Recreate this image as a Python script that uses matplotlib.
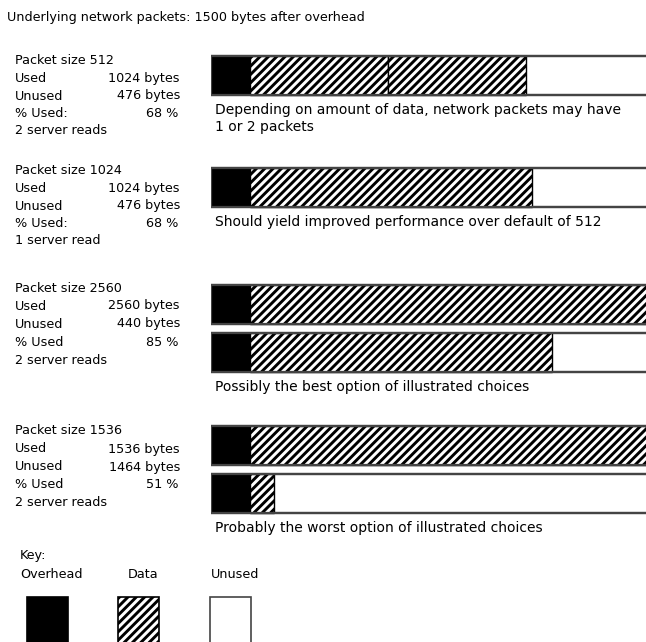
import matplotlib
matplotlib.use("Agg")
import matplotlib.pyplot as plt

plt.rcParams['font.family'] = ['DejaVu Sans']
plt.rcParams['hatch.linewidth'] = 2.1

title = "Underlying network packets: 1500 bytes after overhead"
payload = 1500          # bytes per network packet after overhead
overhead_w = 144        # drawn width of the overhead block (byte-equivalent)

packet_sizes = [512, 1024, 2560, 1536]
used_bytes = [1024, 1024, 2560, 1536]
unused_bytes = [476, 476, 440, 1464]
pct_used = ["68 %", "68 %", "85 %", "51 %"]
pct_labels = ["% Used:", "% Used:", "% Used", "% Used"]
reads = ["2 server reads", "1 server read", "2 server reads", "2 server reads"]
# data segments drawn in each network-packet bar (bytes)
bar_segments = [[[512, 512]], [[1045]], [[1500], [1118]], [[1500], [89]]]
captions = [
    "Depending on amount of data, network packets may have\n1 or 2 packets",
    "Should yield improved performance over default of 512",
    "Possibly the best option of illustrated choices",
    "Probably the worst option of illustrated choices",
]
key_labels = ["Overhead", "Data", "Unused"]

W, H = 646, 642
fig = plt.figure(figsize=(W / 100, H / 100), dpi=100)
ax = fig.add_axes([0, 0, 1, 1])
ax.set_xlim(0, W)
ax.set_ylim(H, 0)
ax.axis('off')

bx0 = 211
axb = fig.add_axes([bx0 / W, 0, (W - bx0) / W, 1])
axb.set_xlim(-overhead_w, -overhead_w + (W - bx0) * (overhead_w + payload) / 444)
axb.set_ylim(H, 0)
axb.axis('off')

fs = 9.2      # title / left block / key
fsc = 10.0    # captions under the bars
ax.text(7, 18, title, fontsize=fs, va='center', ha='left')

block_top = [61, 171, 288, 431]
block_dy = [17.5, 17.5, 18.0, 18.0]
bar_tops = [[56], [168], [285, 333], [426, 474]]
bar_h = 39
edge = '#444444'
xl, xr = 15, 180

for i in range(4):
    y0 = block_top[i]
    dy = block_dy[i]
    ax.text(xl, y0, f"Packet size {packet_sizes[i]}", fontsize=fs, va='center')
    ax.text(xl, y0 + dy, "Used", fontsize=fs, va='center')
    ax.text(xr, y0 + dy, f"{used_bytes[i]} bytes", fontsize=fs, va='center', ha='right')
    ax.text(xl, y0 + 2 * dy, "Unused", fontsize=fs, va='center')
    ax.text(xr, y0 + 2 * dy, f"{unused_bytes[i]} bytes", fontsize=fs, va='center', ha='right')
    ax.text(xl, y0 + 3 * dy, pct_labels[i], fontsize=fs, va='center')
    ax.text(xr - 2, y0 + 3 * dy, pct_used[i], fontsize=fs, va='center', ha='right')
    ax.text(xl, y0 + 4 * dy, reads[i], fontsize=fs, va='center')

    for j, segs in enumerate(bar_segments[i]):
        yc = bar_tops[i][j] + bar_h / 2
        axb.barh(yc, overhead_w + payload, left=-overhead_w, height=bar_h,
                 color='white', edgecolor=edge, linewidth=1.6)
        axb.barh(yc, overhead_w, left=-overhead_w, height=bar_h, color='black',
                 edgecolor='black', linewidth=0)
        left = 0
        for s in segs:
            axb.barh(yc, s, left=left, height=bar_h, color='white', hatch='////',
                     edgecolor='black', linewidth=1.0)
            left += s
        axb.barh(yc, overhead_w + payload, left=-overhead_w, height=bar_h,
                 color='none', edgecolor=edge, linewidth=1.6)
    cap_y = bar_tops[i][-1] + bar_h + 15
    for k, line in enumerate(captions[i].split("\n")):
        ax.text(215, cap_y + k * 16.5, line, fontsize=fsc, va='center', ha='left')

ax.text(20, 555, "Key:", fontsize=fs, va='center')
key_x = [20, 128, 211]
for x, lab in zip(key_x, key_labels):
    ax.text(x, 574, lab, fontsize=fs, va='center')

axk = fig.add_axes([0, 0, 1, 1])
axk.set_xlim(0, W)
axk.set_ylim(H, 0)
axk.axis('off')
sw_x = [27, 118, 210]
sw_w = 41
styles = [dict(color='black', edgecolor='black'),
          dict(color='white', hatch='////', edgecolor='black'),
          dict(color='white', edgecolor=edge)]
for x, st in zip(sw_x, styles):
    axk.bar(x + sw_w / 2, 60, bottom=597, width=sw_w, linewidth=1.2, **st)

fig.savefig("out.png", dpi=100, facecolor='white')
